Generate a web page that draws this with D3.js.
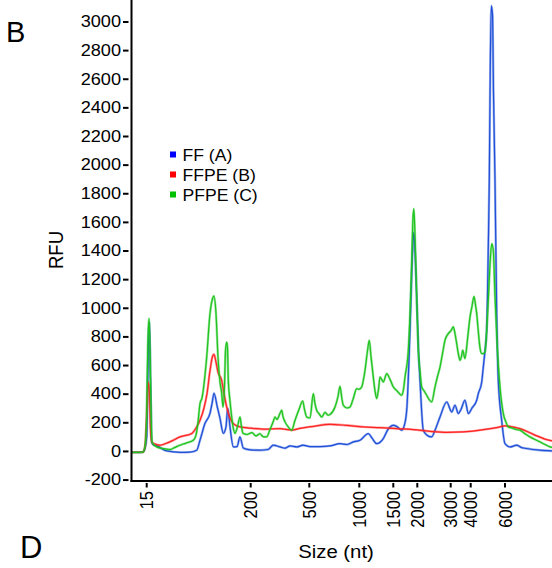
<!DOCTYPE html>
<html>
<head>
<meta charset="utf-8">
<script src="https://cdn.jsdelivr.net/npm/d3@7"></script>
<style>
  html, body { margin: 0; padding: 0; background: #fff; }
  svg { display: block; }
  text { font-family: "Liberation Sans", Arial, Helvetica, sans-serif; fill: #000; }
</style>
</head>
<body>
<svg id="chart" width="552" height="568"></svg>
<script>
// ---- Data (migration time in arbitrary units, RFU) ----
const ladderSizes = [15, 200, 500, 1000, 1500, 2000, 3000, 4000, 6000];
const ladderTimes = [2.94, 23.74, 35.46, 45.46, 52.26, 57.06, 63.74, 67.74, 74.6];
const yTicks = [-200, 0, 200, 400, 600, 800, 1000, 1200, 1400, 1600, 1800, 2000, 2200, 2400, 2600, 2800, 3000];
const seriesNames = ["FF (A)", "FFPE (B)", "PFPE (C)"];
const seriesColors = ["#1f4fd8", "#ff2424", "#1ec41e"];
const legendColors = ["#0000ff", "#ff0000", "#00c000"];

const ffTrace = [
  [0,-10],[2.2,-8],[2.6,20],[2.94,98],[3.2,600],[3.46,900],[3.7,500],[3.94,63],[4.2,45],[5.0,35],
  [6.94,0],[9.6,-10],[11.6,-8],[12.94,5],[13.6,75],[14.6,193],[15.6,263],[16.0,330],[16.4,403],
  [17.06,307],[17.6,228],[18.26,123],[18.8,168],[19.14,298],[19.6,168],[20.26,28],[21.0,30],
  [21.6,98],[22.26,20],[23.6,8],[25.6,5],[27.2,10],[28.26,40],[29.6,28],[30.6,19],[31.6,35],
  [32.94,28],[34.2,40],[35.6,30],[37.6,30],[39.6,35],[41.6,51],[43.0,45],[44.26,63],[45.6,75],
  [47.26,121],[48.0,90],[48.94,51],[50.26,86],[51.2,150],[52.26,179],[53.0,170],[53.94,145],
  [54.4,170],[54.94,284],[55.6,843],[56.0,1300],[56.36,1525],[56.6,1400],[56.94,1075],[57.3,700],
  [57.6,493],[58.26,145],[59.0,110],[59.94,98],[60.6,145],[61.6,237],[62.94,342],[63.94,272],
  [64.6,319],[65.26,261],[65.8,290],[66.6,354],[67.26,261],[68.0,300],[68.94,354],[69.26,400],
  [69.94,480],[70.26,586],[70.6,700],[70.94,843],[71.26,1424],[71.46,1890],[71.66,2700],
  [71.86,3110],[72.1,3050],[72.3,2500],[72.6,1890],[72.94,960],[73.26,493],[73.94,214],
  [74.6,51],[75.6,28],[76.94,40],[77.8,25],[78.94,17],[81.6,5],[84,0]
];

const ffpeTrace = [
  [0,-10],[2.2,-8],[2.6,30],[3.0,300],[3.26,480],[3.5,400],[3.7,150],[4.0,60],[4.6,48],[5.6,40],
  [6.6,50],[8.0,70],[9.6,98],[11.0,110],[11.94,121],[12.8,160],[13.6,214],[14.4,300],[15.0,400],
  [15.6,560],[16.1,660],[16.4,675],[16.8,620],[17.2,550],[17.94,493],[18.4,400],[18.94,307],
  [19.6,230],[20.2,193],[21.6,168],[23.6,160],[26.6,152],[29.6,156],[31.94,145],[33.6,158],
  [36.26,172],[39.6,186],[42.8,179],[46.2,168],[49.6,163],[52.94,156],[56.26,149],[59.6,137],
  [62.94,130],[66.26,133],[69.6,145],[72.94,163],[74.6,175],[75.6,172],[77.6,156],[80.26,116],
  [82.94,79],[84,70]
];

const pfpeTrace = [
  [0,-10],[2.2,-8],[2.6,30],[2.9,200],[3.14,700],[3.4,926],[3.6,700],[3.8,300],[4.0,60],[4.94,28],
  [6.0,18],[7.6,10],[8.6,25],[9.6,40],[10.8,55],[12.26,75],[12.8,110],[13.2,200],[13.6,330],
  [14.0,370],[14.94,656],[15.6,960],[16.0,1050],[16.4,1082],[16.8,960],[17.2,656],[17.6,480],
  [17.94,403],[18.2,307],[18.5,450],[18.7,700],[18.94,760],[19.1,720],[19.26,493],[19.6,350],
  [19.94,237],[20.2,170],[20.6,123],[21.1,170],[21.6,237],[21.9,170],[22.2,123],[23.0,115],
  [24.0,128],[24.8,105],[25.6,120],[26.2,100],[26.94,98],[27.6,150],[28.2,200],[28.6,237],
  [29.0,220],[29.6,263],[29.94,284],[30.2,240],[30.6,203],[31.2,170],[31.94,145],[32.6,214],
  [33.4,290],[34.14,349],[34.5,290],[34.94,237],[35.6,230],[36.26,400],[36.6,330],[36.94,284],
  [37.4,260],[37.94,237],[38.6,270],[39.2,250],[39.6,255],[40.6,307],[41.2,380],[41.6,452],
  [42.0,360],[42.26,319],[43.0,300],[43.6,307],[44.2,360],[44.94,435],[45.4,430],[45.94,447],
  [46.3,500],[46.6,563],[47.1,700],[47.46,773],[47.8,660],[48.26,516],[48.6,420],[48.94,366],
  [49.3,430],[49.6,516],[49.94,500],[50.26,482],[50.94,540],[51.6,500],[52.26,447],[53.0,420],
  [53.94,389],[54.3,430],[54.6,516],[55.26,703],[55.6,950],[55.94,1308],[56.16,1600],[56.36,1692],
  [56.56,1550],[56.94,1075],[57.26,703],[57.6,560],[57.94,447],[58.4,420],[58.94,389],[59.4,360],
  [59.94,342],[60.6,447],[61.1,520],[61.6,586],[62.1,680],[62.6,773],[63.26,820],[63.8,840],
  [64.26,866],[64.6,820],[64.94,750],[65.26,680],[65.6,633],[65.9,660],[66.14,703],[66.6,645],
  [67.1,780],[67.6,935],[68.0,1010],[68.4,1080],[68.7,1020],[68.94,959],[69.3,820],[69.6,720],
  [69.94,680],[70.26,680],[70.6,690],[70.94,843],[71.26,1052],[71.6,1300],[71.94,1448],
  [72.26,1401],[72.6,1075],[73.06,726],[73.6,447],[74.26,261],[74.8,200],[75.26,168],[76.0,160],
  [76.8,150],[77.6,145],[78.6,120],[79.6,98],[80.6,80],[81.6,63],[82.6,45],[83.6,28],[84,25]
];

// ---- Layout ----
const svg = d3.select("#chart");
const plotLeft = 132, plotRight = 552, plotTop = 0, plotBottom = 481;
const stretch = 1.1; // glyphs in the source are slightly wide

const x = d3.scaleLinear().domain([0, 84]).range([plotLeft, plotRight]);
const y = d3.scaleLinear().domain([-210, 3150]).range([plotBottom, plotTop]);

// ---- Traces ----
const line = d3.line()
  .x(d => x(d[0]))
  .y(d => y(d[1]))
  .curve(d3.curveMonotoneX);

const traces = [ffTrace, ffpeTrace, pfpeTrace];
const drawOrder = [0, 1, 2];
const plot = svg.append("g");
drawOrder.forEach(i => {
  plot.append("path")
    .attr("d", line(traces[i]))
    .attr("fill", "none")
    .attr("stroke", seriesColors[i])
    .attr("stroke-opacity", 0.45)
    .attr("stroke-width", 2.4)
    .attr("stroke-linejoin", "round");
  plot.append("path")
    .attr("d", line(traces[i]))
    .attr("fill", "none")
    .attr("stroke", seriesColors[i])
    .attr("stroke-width", 1.2)
    .attr("stroke-linejoin", "round");
});

// ---- Axes lines ----
svg.append("line")
  .attr("x1", plotLeft - 0.5).attr("x2", plotLeft - 0.5)
  .attr("y1", plotTop).attr("y2", plotBottom + 1)
  .attr("stroke", "#000").attr("stroke-width", 2);
svg.append("line")
  .attr("x1", plotLeft - 1.5).attr("x2", plotRight)
  .attr("y1", plotBottom).attr("y2", plotBottom)
  .attr("stroke", "#000").attr("stroke-width", 2);

// ---- Y axis ticks ----
const yAxis = d3.axisLeft(y).tickValues(yTicks).tickSize(0).tickPadding(0).tickFormat(d => String(d));
const gy = svg.append("g").attr("transform", `translate(${plotLeft},0)`).call(yAxis);
gy.select(".domain").remove();
gy.selectAll(".tick line").remove();
gy.selectAll(".tick").append("line")
  .attr("x1", -3.5).attr("x2", -9)
  .attr("stroke", "#000").attr("stroke-width", 2);
gy.selectAll(".tick text")
  .attr("x", 0)
  .attr("transform", `translate(-11,0) scale(${stretch},1)`)
  .attr("font-size", 16.5)
  .attr("font-family", "Liberation Sans, Arial, sans-serif")
  .attr("fill", "#000");

// ---- X axis ticks (ladder sizes at migration times) ----
const xTicks = svg.append("g");
const xt = xTicks.selectAll("g").data(ladderTimes).join("g")
  .attr("transform", d => `translate(${x(d)},0)`);
xt.append("line")
  .attr("y1", plotBottom + 2).attr("y2", plotBottom + 6.5)
  .attr("stroke", "#000").attr("stroke-width", 2);
xt.append("text")
  .attr("transform", `translate(0,${plotBottom + 10}) scale(${stretch},1) rotate(-90)`)
  .attr("text-anchor", "end")
  .attr("dy", "0.36em")
  .attr("font-size", 16.5)
  .text((d, i) => ladderSizes[i]);

// ---- Axis titles ----
svg.append("text")
  .attr("transform", `translate(336,558) scale(${stretch},1)`)
  .attr("text-anchor", "middle")
  .attr("font-size", 18.5)
  .text("Size (nt)");
svg.append("text")
  .attr("transform", `translate(63,250) scale(${stretch},1) rotate(-90)`)
  .attr("text-anchor", "middle")
  .attr("font-size", 18.5)
  .text("RFU");

// ---- Panel letters ----
svg.append("text").attr("x", 6).attr("y", 41.5).attr("font-size", 29).text("B");
svg.append("text").attr("x", 20).attr("y", 558).attr("font-size", 31).text("D");

// ---- Legend ----
const legend = svg.append("g").attr("transform", "translate(170,0)");
const li = legend.selectAll("g").data(seriesNames).join("g")
  .attr("transform", (d, i) => `translate(0,${160.5 + i * 20})`);
li.append("rect")
  .attr("x", 0).attr("y", -9).attr("width", 6).attr("height", 6)
  .attr("fill", (d, i) => legendColors[i]);
li.append("text")
  .attr("transform", `translate(12.5,0) scale(${stretch},1)`)
  .attr("font-size", 16)
  .text(d => d);
</script>
</body>
</html>
